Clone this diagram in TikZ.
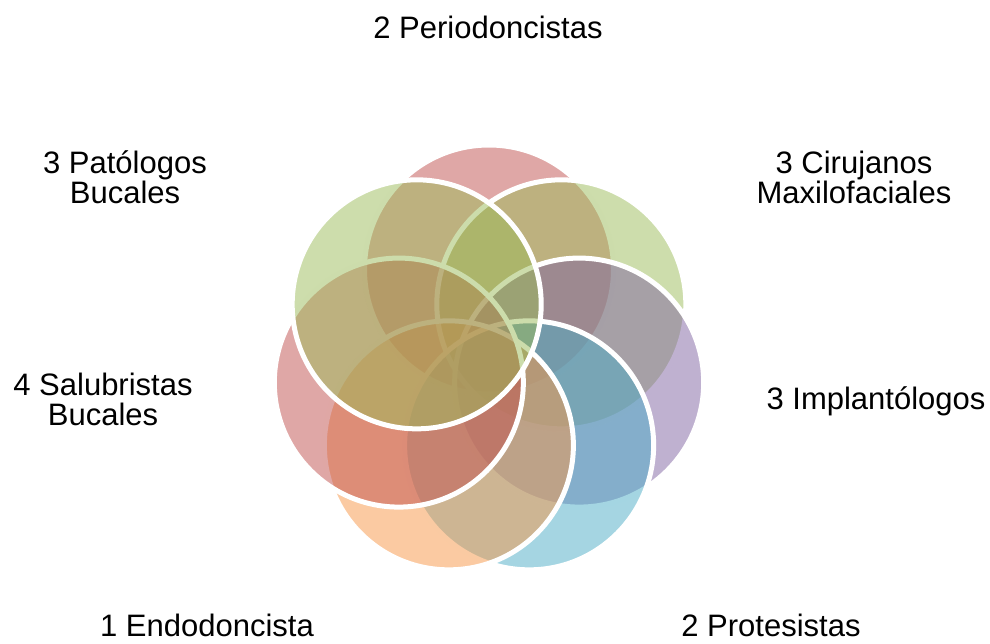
\documentclass[tikz,border=0pt]{standalone}
\usepackage{fontspec}
\setmainfont{Liberation Sans}
\definecolor{accRed}{HTML}{C0504D}
\definecolor{accGreen}{HTML}{9BBB59}
\definecolor{accPurple}{HTML}{8064A2}
\definecolor{accAqua}{HTML}{4BACC6}
\definecolor{accOrange}{HTML}{F79646}
\begin{document}
\begin{tikzpicture}[x=1pt,y=-1pt,
  petal/.style={fill=#1, fill opacity=0.5, draw=white, draw opacity=1, line width=5pt},
  lbl/.style={font=\fontsize{31}{30}\selectfont, align=center, text=black, inner sep=0pt, anchor=base}]
\useasboundingbox (0,0) rectangle (990,643);
% seven overlapping circles in a ring, clockwise from the top
\foreach \c [count=\k from 0] in {accRed,accGreen,accPurple,accAqua,accOrange,accRed,accGreen} {
  \pgfmathsetmacro\a{-90+\k*360/7}
  \path[petal=\c] ({489+92.5*cos(\a)},{362+92.5*sin(\a)}) circle[radius=124.5pt];
}
% labels (base = baseline of the last line)
\node[lbl] (peri) at (488,38) {2 Periodoncistas};
\node[lbl] (ciru) at (854,203) {3 Cirujanos\\Maxilofaciales};
\node[lbl] (impl) at (876,409) {3 Implantólogos};
\node[lbl] (prot) at (771,636) {2 Protesistas};
\node[lbl] (endo) at (207,636) {1 Endodoncista};
\node[lbl] (salu) at (103,425) {4 Salubristas\\Bucales};
\node[lbl] (pato) at (125,203) {3 Patólogos\\Bucales};
\end{tikzpicture}
\end{document}
